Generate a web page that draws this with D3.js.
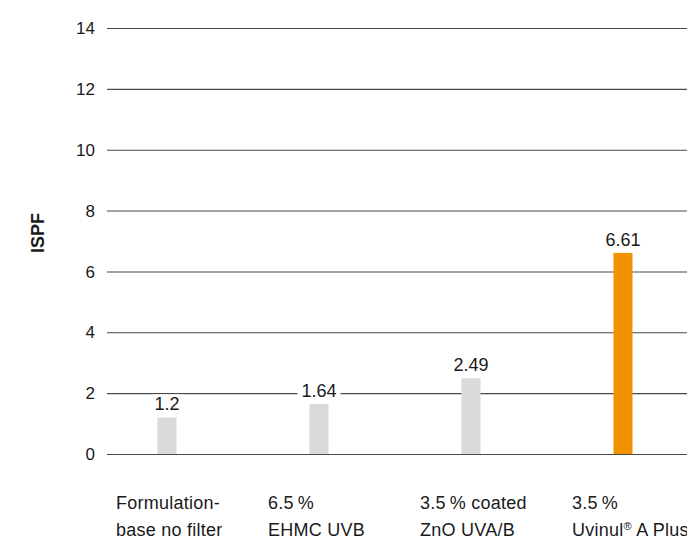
<!DOCTYPE html>
<html><head><meta charset="utf-8">
<script src="https://cdn.jsdelivr.net/npm/d3@7"></script>
<style>body{margin:0;background:#fff}svg{display:block}text{font-family:"Liberation Sans",Arial,Helvetica,sans-serif;fill:#1a1a1a}</style>
</head><body><svg id="c" width="687" height="539"></svg>
<script>
const categories = ["Formulation base no filter","6.5 % EHMC UVB","3.5 % coated ZnO UVA/B","3.5 % Uvinul® A Plus"];
const labelLine1 = ["Formulation-","6.5\u2009%","3.5\u2009% coated","3.5\u2009%"];
const labelLine2 = [["base no filter"],["EHMC UVB"],["ZnO UVA/B"],["Uvinul","®"," A Plus"]];
const values = [1.2, 1.64, 2.49, 6.61];
const valueLabels = ["1.2","1.64","2.49","6.61"];
const highlight = [false,false,false,true];
const yTicks = [0,2,4,6,8,10,12,14];

const svg = d3.select("#c");
const x = d3.scaleBand().domain(categories).range([91, 699]).padding(0);
const y = d3.scaleLinear().domain([0,14]).range([454, 28]);
const barW = 19;
const cx = d => x(d) + x.bandwidth()/2;

// gridlines
svg.append("g").selectAll("line").data(yTicks).join("line")
  .attr("x1",107).attr("x2",687)
  .attr("y1",d=>y(d)+0.5).attr("y2",d=>y(d)+0.5)
  .attr("stroke","#4a4a4a").attr("stroke-width",1.1);

// y tick labels
svg.append("g").selectAll("text").data(yTicks).join("text")
  .attr("x",95).attr("y",d=>y(d)).attr("dy","0.36em")
  .attr("text-anchor","end").attr("font-size",17).text(d=>d);

// y title
svg.append("text").attr("transform","translate(44,233) rotate(-90)")
  .attr("text-anchor","middle").attr("font-size",18).attr("font-weight","bold").text("ISPF");

// bars
svg.append("g").selectAll("rect").data(categories).join("rect")
  .attr("x",d=>cx(d)-barW/2)
  .attr("width",barW)
  .attr("y",(d,i)=>y(values[i]))
  .attr("height",(d,i)=>y(0)-y(values[i]))
  .attr("fill",(d,i)=>highlight[i]?"#F39200":"#D9DADB");

// value labels with white knockout
const vl = svg.append("g").selectAll("g").data(categories).join("g");
const vt = vl.append("text")
  .attr("x",d=>cx(d))
  .attr("y",(d,i)=>y(values[i])-7)
  .attr("text-anchor","middle").attr("font-size",18)
  .text((d,i)=>valueLabels[i]);
vt.each(function(){
  const b = this.getBBox();
  d3.select(this.parentNode).insert("rect","text")
    .attr("x",b.x-4).attr("y",b.y).attr("width",b.width+8).attr("height",b.height)
    .attr("fill","#fff");
});

// category labels
const cl = svg.append("g").selectAll("text").data(categories).join("text")
  .attr("x",d=>cx(d)-51)
  .attr("font-size",18).attr("letter-spacing","0.25px");
cl.append("tspan").attr("y",509).text((d,i)=>labelLine1[i]);
cl.each(function(d,i){
  const t = d3.select(this);
  const parts = labelLine2[i];
  t.append("tspan").attr("x",cx(d)-51).attr("y",536).text(parts[0]);
  if(parts.length>1){
    t.append("tspan").attr("font-size",11).attr("dy",-6).text(parts[1]);
    t.append("tspan").attr("dy",6).text(parts[2]);
  }
});
</script></body></html>
